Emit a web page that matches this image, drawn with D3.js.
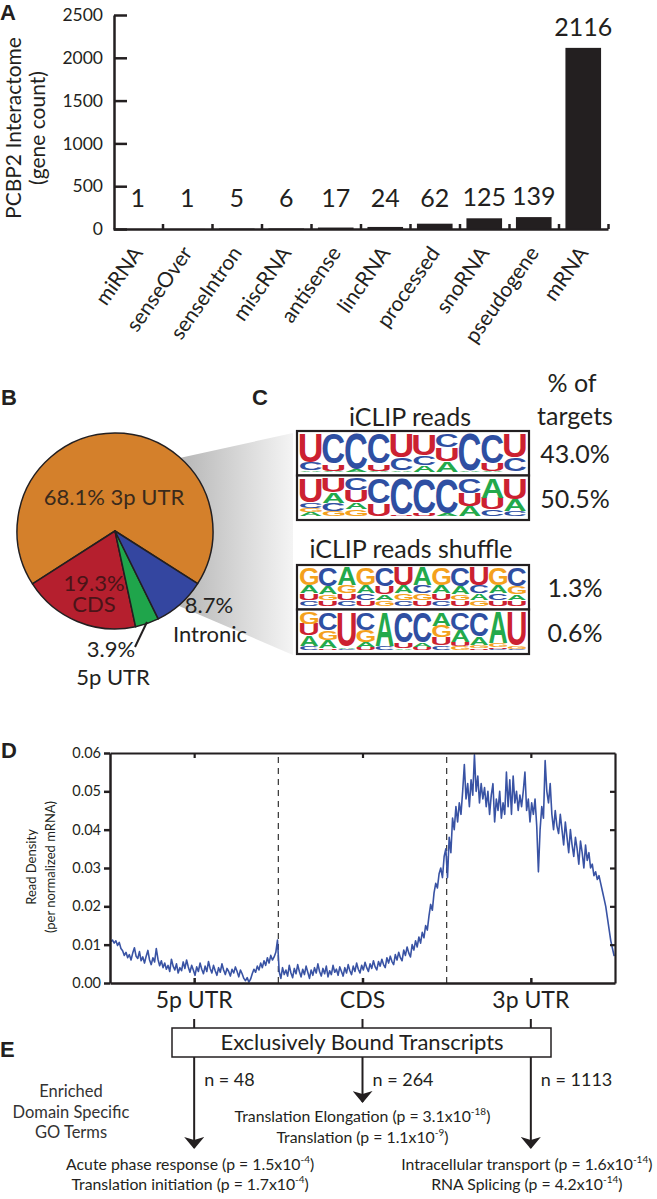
<!DOCTYPE html>
<html>
<head>
<meta charset="utf-8">
<script src="https://cdn.jsdelivr.net/npm/d3@7"></script>
<style>
  body { margin: 0; background: #fff; }
  svg { display: block; }
  text { font-family: Lato, "Open Sans", sans-serif; }
  .panel { font-family: "Liberation Sans", Arial, sans-serif; font-weight: bold; font-size: 22px; }
  .nt { font-family: "Liberation Sans", Arial, sans-serif; font-weight: bold; }
</style>
</head>
<body>
<svg id="fig" width="657" height="1199"></svg>
<script>
// ---- data ----
var rnaTypes = ["miRNA", "senseOver", "senseIntron", "miscRNA", "antisense", "lincRNA", "processed", "snoRNA", "pseudogene", "mRNA"];
var geneCounts = [1, 1, 5, 6, 17, 24, 62, 125, 139, 2116];
var countTicks = [0, 500, 1000, 1500, 2000, 2500];

var regionNames = ["3p UTR", "CDS", "5p UTR", "Intronic"];
var regionShares = [68.1, 19.3, 3.9, 8.7];

var motifTargets = [43.0, 50.5, 1.3, 0.6];
var motifReads = [
  [["U",.74],["C",.21],["A",.04]],
  [["C",.78],["U",.18],["A",.03]],
  [["C",.90],["A",.07]],
  [["C",.78],["U",.18],["A",.03]],
  [["U",.62],["C",.33],["A",.04]],
  [["U",.55],["C",.26],["A",.17]],
  [["C",.36],["U",.34],["A",.28]],
  [["C",.95],["A",.04]],
  [["C",.76],["U",.20],["A",.03]],
  [["U",.62],["C",.35],["A",.02]]
];
var motifReads2 = [
  [["U",.62],["C",.14],["G",.12],["A",.10]],
  [["U",.36],["A",.28],["C",.20],["G",.14]],
  [["C",.30],["U",.32],["A",.18],["G",.18]],
  [["C",.66],["U",.32]],
  [["C",.92],["U",.06]],
  [["C",.90],["U",.08]],
  [["C",.90],["A",.08]],
  [["C",.38],["U",.34],["A",.26]],
  [["A",.50],["U",.30],["C",.18]],
  [["U",.55],["A",.30],["C",.13]]
];
var motifShuffle = [
  [["G",.46],["A",.20],["U",.18],["C",.14]],
  [["C",.48],["A",.20],["G",.16],["U",.14]],
  [["A",.46],["G",.20],["U",.18],["C",.14]],
  [["G",.46],["A",.20],["C",.18],["U",.14]],
  [["C",.48],["U",.20],["A",.16],["G",.14]],
  [["U",.46],["A",.20],["G",.18],["C",.14]],
  [["A",.46],["C",.20],["G",.18],["U",.14]],
  [["G",.46],["A",.20],["U",.18],["C",.14]],
  [["C",.48],["A",.20],["G",.16],["U",.14]],
  [["U",.46],["C",.20],["A",.18],["G",.14]],
  [["G",.46],["A",.20],["C",.18],["U",.14]],
  [["C",.48],["G",.20],["A",.16],["U",.14]]
];
var motifShuffle2 = [
  [["G",.30],["U",.30],["A",.26],["C",.12]],
  [["C",.46],["G",.26],["A",.20],["U",.06]],
  [["U",.88],["A",.06],["C",.04]],
  [["C",.45],["G",.30],["A",.14],["U",.08]],
  [["A",.86],["C",.10],["U",.02]],
  [["C",.78],["U",.14],["A",.06]],
  [["C",.78],["A",.12],["U",.08]],
  [["A",.34],["G",.30],["U",.20],["C",.12]],
  [["C",.45],["A",.30],["U",.12],["G",.10]],
  [["C",.62],["A",.22],["G",.08],["U",.06]],
  [["A",.80],["G",.10],["U",.06],["C",.03]],
  [["U",.86],["G",.08],["C",.04]]
];

var mrnaRegions = ["5p UTR", "CDS", "3p UTR"];
var densityTicks = [0, 0.01, 0.02, 0.03, 0.04, 0.05, 0.06];
var profile5p = [0.0108,0.0112,0.0104,0.0110,0.0098,0.0106,0.0090,0.0084,0.0072,0.0080,
  0.0066,0.0074,0.0060,0.0078,0.0092,0.0070,0.0064,0.0082,0.0058,0.0068,
  0.0052,0.0070,0.0085,0.0060,0.0048,0.0066,0.0055,0.0090,0.0062,0.0045,
  0.0058,0.0040,0.0052,0.0036,0.0046,0.0030,0.0062,0.0044,0.0034,0.0050,
  0.0026,0.0040,0.0032,0.0055,0.0038,0.0060,0.0042,0.0028,0.0046,0.0034,
  0.0020,0.0042,0.0030,0.0052,0.0036,0.0024,0.0044,0.0030,0.0056,0.0038,
  0.0026,0.0046,0.0032,0.0020,0.0040,0.0028,0.0050,0.0034,0.0022,0.0038,
  0.0030,0.0018,0.0036,0.0026,0.0042,0.0030,0.0016,0.0034,0.0024,0.0012,
  0.0006,0.0014,0.0002,0.0010,0.0024,0.0036,0.0028,0.0044,0.0034,0.0052,
  0.0040,0.0058,0.0046,0.0066,0.0052,0.0072,0.0060,0.0068,0.0080,0.0112];
var profileCDS = [0.0030,0.0012,0.0040,0.0022,0.0034,0.0018,0.0046,0.0026,0.0014,0.0038,
  0.0024,0.0048,0.0030,0.0016,0.0036,0.0022,0.0044,0.0028,0.0012,0.0034,
  0.0020,0.0040,0.0026,0.0050,0.0030,0.0018,0.0038,0.0024,0.0044,0.0016,
  0.0032,0.0022,0.0046,0.0028,0.0036,0.0020,0.0042,0.0030,0.0018,0.0040,
  0.0026,0.0048,0.0032,0.0022,0.0044,0.0030,0.0052,0.0036,0.0026,0.0046,
  0.0034,0.0054,0.0040,0.0030,0.0050,0.0038,0.0058,0.0042,0.0034,0.0056,
  0.0044,0.0062,0.0048,0.0040,0.0066,0.0052,0.0070,0.0056,0.0048,0.0074,
  0.0060,0.0080,0.0066,0.0058,0.0086,0.0072,0.0094,0.0078,0.0068,0.0100,
  0.0086,0.0110,0.0094,0.0120,0.0104,0.0132,0.0118,0.0150,0.0138,0.0175,
  0.0205,0.0190,0.0235,0.0260,0.0248,0.0285,0.0300,0.0275,0.0330,0.0350];
var profile3p = [0.0275,0.0380,0.0340,0.0430,0.0400,0.0460,0.0420,0.0470,0.0440,0.0500,
  0.0570,0.0480,0.0520,0.0460,0.0530,0.0490,0.0595,0.0500,0.0540,0.0470,
  0.0520,0.0480,0.0510,0.0460,0.0500,0.0440,0.0490,0.0520,0.0420,0.0480,
  0.0450,0.0500,0.0430,0.0470,0.0440,0.0550,0.0460,0.0530,0.0440,0.0540,
  0.0470,0.0500,0.0450,0.0490,0.0460,0.0500,0.0550,0.0450,0.0480,0.0420,
  0.0470,0.0440,0.0480,0.0410,0.0290,0.0400,0.0460,0.0430,0.0580,0.0500,
  0.0470,0.0520,0.0440,0.0400,0.0450,0.0410,0.0390,0.0440,0.0400,0.0360,
  0.0420,0.0380,0.0340,0.0400,0.0360,0.0330,0.0380,0.0350,0.0310,0.0370,
  0.0340,0.0300,0.0360,0.0320,0.0340,0.0300,0.0310,0.0280,0.0290,0.0270,
  0.0280,0.0260,0.0240,0.0220,0.0200,0.0170,0.0140,0.0110,0.0090,0.0070];

var boundCounts = [48, 264, 1113];
var goTerms5p = ["Acute phase response", "Translation initiation"];
var goPvals5p = [1.5e-4, 1.7e-4];
var goTermsCDS = ["Translation Elongation", "Translation"];
var goPvalsCDS = [3.1e-18, 1.1e-9];
var goTerms3p = ["Intracellular transport", "RNA Splicing"];
var goPvals3p = [1.6e-14, 4.2e-14];

// ---- drawing ----
var svg = d3.select("#fig");
var ink = "#231f20";

function styleAxis(g, w) {
  g.select(".domain").attr("stroke", ink).attr("stroke-width", w);
  g.selectAll(".tick line").attr("stroke", ink).attr("stroke-width", w);
  g.selectAll(".tick text").attr("fill", ink);
}

[["A", 0, 20], ["B", 1, 405], ["C", 252, 405], ["D", 1, 758], ["E", 0, 1057]].forEach(function(p) {
  svg.append("text").attr("class", "panel").attr("x", p[1]).attr("y", p[2]).attr("fill", ink).text(p[0]);
});

// A: bar chart
var gA = svg.append("g");
var xA = d3.scaleBand().domain(rnaTypes).range([113, 608]);
var yA = d3.scaleLinear().domain([0, 2500]).range([229, 15]);
var bw = xA.bandwidth();
var barData = rnaTypes.map(function(t, i) { return {type: t, count: geneCounts[i]}; });

gA.selectAll(".bar").data(barData).enter().append("rect")
  .attr("class", "bar")
  .attr("x", function(d) { return xA(d.type) + bw * 0.14; })
  .attr("width", bw * 0.72)
  .attr("y", function(d) { return yA(d.count); })
  .attr("height", function(d) { return yA(0) - yA(d.count); })
  .attr("fill", ink);

gA.append("g").attr("transform", "translate(114,0)")
  .call(d3.axisLeft(yA).tickValues(countTicks).tickSize(-13).tickSizeOuter(0).tickPadding(11).tickFormat(d3.format("d")))
  .call(function(g) { styleAxis(g, 2.5); g.selectAll("text").style("font-size", "17.5px"); });

var xEdge = d3.scaleLinear().domain([0, rnaTypes.length]).range([113, 608]);
gA.append("g").attr("transform", "translate(0,229)")
  .call(d3.axisBottom(xEdge).tickValues(d3.range(1, rnaTypes.length + 1)).tickSize(-5).tickSizeOuter(0).tickFormat(""))
  .call(function(g) { styleAxis(g, 2.5); });

gA.selectAll(".count").data(barData).enter().append("text")
  .attr("x", function(d) { return xA(d.type) + bw / 2; })
  .attr("y", function(d) { return Math.min(yA(d.count) - 12, 207); })
  .attr("text-anchor", "middle").attr("fill", ink).style("font-size", "25px")
  .text(function(d) { return d.count; });

gA.selectAll(".cat").data(barData).enter().append("text")
  .attr("transform", function(d) { return "translate(" + (xA(d.type) + bw / 2 + 6) + ",253) rotate(-55)"; })
  .attr("text-anchor", "end").attr("fill", ink).style("font-size", "21px")
  .text(function(d) { return d.type; });

var yLab = gA.append("text").attr("transform", "translate(21,128) rotate(-90)")
  .attr("text-anchor", "middle").attr("fill", ink).style("font-size", "21px");
yLab.append("tspan").attr("x", 0).attr("y", 0).text("PCBP2 Interactome");
yLab.append("tspan").attr("x", 0).attr("y", 24).text("(gene count)");

// B: pie + funnel to C
var defs = svg.append("defs");
var grad = defs.append("linearGradient").attr("id", "funnel").attr("gradientUnits", "userSpaceOnUse")
  .attr("x1", 185).attr("y1", 0).attr("x2", 293).attr("y2", 0);
grad.append("stop").attr("offset", 0).attr("stop-color", "#b9b9b9");
grad.append("stop").attr("offset", 1).attr("stop-color", "#f4f4f4");
svg.append("path").attr("d", "M175,459L293,433L293,655L172,603Z").attr("fill", "url(#funnel)");

var regionColors = ["#d4802b", "#b51f2e", "#1fa54b", "#3446a0"];
var pieStart = 482.5 * Math.PI / 180;
var pie = d3.pie().sort(null).value(function(d) { return d; })
  .startAngle(pieStart).endAngle(pieStart - 2 * Math.PI);
var arc = d3.arc().innerRadius(0).outerRadius(98);
var gB = svg.append("g").attr("transform", "translate(115,531)");
gB.selectAll("path").data(pie(regionShares)).enter().append("path")
  .attr("d", arc)
  .attr("fill", function(d, i) { return regionColors[i]; })
  .attr("stroke", ink).attr("stroke-width", 1.5).attr("stroke-linejoin", "round");

function label(x, y, t, size, col) {
  svg.append("text").attr("x", x).attr("y", y).attr("text-anchor", "middle")
    .attr("fill", col || ink).style("font-size", size + "px").text(t);
}
label(114, 505, regionShares[0].toFixed(1) + "% " + regionNames[0], 22, "#3a2a1c");
label(94, 591, regionShares[1].toFixed(1) + "%", 22, "#4a1418");
label(94, 612, regionNames[1], 22, "#4a1418");
label(209, 613, regionShares[3].toFixed(1) + "%", 22);
label(210, 642, regionNames[3], 22);
label(111, 657, regionShares[2].toFixed(1) + "%", 22);
label(113, 685, regionNames[2], 22);
svg.append("line").attr("x1", 147).attr("y1", 622).attr("x2", 135).attr("y2", 647)
  .attr("stroke", ink).attr("stroke-width", 2);

// C: sequence logos
var ntColor = {A: "#23a94b", C: "#2f4fa2", G: "#f4a11d", U: "#cc2131"};
var glyph = {};
var ctx = document.createElement("canvas").getContext("2d");
ctx.font = "bold 100px 'Liberation Sans'";
"ACGU".split("").forEach(function(ch) {
  var m = ctx.measureText(ch);
  glyph[ch] = {l: m.actualBoundingBoxLeft, r: m.actualBoundingBoxRight,
               a: m.actualBoundingBoxAscent, d: m.actualBoundingBoxDescent};
});

function drawLogo(cols, x, y, w, h) {
  var g = svg.append("g");
  g.append("rect").attr("x", x).attr("y", y).attr("width", w).attr("height", h)
    .attr("fill", "#fff").attr("stroke", ink).attr("stroke-width", 2.2);
  var pad = 3, iw = w - 2 * pad, ih = h - 2 * pad;
  var xc = d3.scaleBand().domain(d3.range(cols.length)).range([x + pad, x + pad + iw]).paddingInner(0.04);
  cols.forEach(function(col, i) {
    var sum = d3.sum(col, function(c) { return c[1]; });
    var yh = d3.scaleLinear().domain([0, sum]).range([0, ih]);
    var yb = y + pad + ih;
    for (var k = col.length - 1; k >= 0; k--) {
      var ch = col[k][0], hh = yh(col[k][1]);
      yb -= hh;
      var gb = glyph[ch];
      var sx = xc.bandwidth() / (gb.l + gb.r), sy = Math.max(hh - 0.6, 0.3) / (gb.a + gb.d);
      g.append("text").attr("class", "nt").attr("font-size", 100)
        .attr("transform", "translate(" + xc(i) + "," + yb + ") scale(" + sx + "," + sy + ") translate(" + gb.l + "," + gb.a + ")")
        .style("fill", ntColor[ch]).text(ch);
    }
  });
}
var logoX = 297, logoW = 232, logoH = 44.5;
var logoRows = [[motifReads, 431], [motifReads2, 431 + logoH], [motifShuffle, 565], [motifShuffle2, 565 + logoH]];
logoRows.forEach(function(r, i) {
  drawLogo(r[0], logoX, r[1], logoW, logoH);
  label(575, r[1] + logoH / 2 + 10, motifTargets[i].toFixed(1) + "%", 25);
});
label(410, 426, "iCLIP reads", 25);
label(411, 558, "iCLIP reads shuffle", 25);
label(572, 392, "% of", 25);
label(575, 425, "targets", 25);

// D: read density profile
var profile = profile5p.concat(profileCDS, profile3p);
var nBins = profile.length;
var regionEdges = [profile5p.length, profile5p.length + profileCDS.length];
var regionMid = [profile5p.length / 2, profile5p.length + profileCDS.length / 2,
                 profile5p.length + profileCDS.length + profile3p.length / 2];
var xD = d3.scaleLinear().domain([0, nBins]).range([110, 615]);
var yD = d3.scaleLinear().domain([0, 0.06]).range([983, 753]);
var gD = svg.append("g");

gD.selectAll(".edge").data(regionEdges).enter().append("line")
  .attr("x1", function(d) { return xD(d); }).attr("x2", function(d) { return xD(d); })
  .attr("y1", yD(0)).attr("y2", yD(0.06))
  .attr("stroke", "#333").attr("stroke-width", 1.2).attr("stroke-dasharray", "6,5");

gD.append("path").datum(profile)
  .attr("fill", "none").attr("stroke", "#3953a4").attr("stroke-width", 1.6).attr("stroke-linejoin", "round")
  .attr("d", d3.line().x(function(d, i) { return xD(i + 0.5); }).y(function(d) { return yD(d); }));

gD.append("g").attr("transform", "translate(110,0)")
  .call(d3.axisLeft(yD).tickValues(densityTicks).tickSize(6).tickSizeOuter(0).tickPadding(3).tickFormat(d3.format(".2f")))
  .call(function(g) { styleAxis(g, 2.5); g.selectAll("text").style("font-size", "14.5px"); });
gD.append("g").attr("transform", "translate(615,0)")
  .call(d3.axisRight(yD).tickValues(densityTicks.slice(1, -1)).tickSize(-5).tickSizeOuter(0).tickFormat(""))
  .call(function(g) { styleAxis(g, 2.2); });
gD.append("g").attr("transform", "translate(0,753)")
  .call(d3.axisTop(xD).tickValues(regionMid).tickSize(-5).tickSizeOuter(0).tickFormat(""))
  .call(function(g) { styleAxis(g, 2.2); });
gD.append("g").attr("transform", "translate(0,983)")
  .call(d3.axisBottom(xD).tickValues(regionMid).tickSize(-5).tickSizeOuter(0).tickFormat(""))
  .call(function(g) { styleAxis(g, 2.5); });

regionMid.forEach(function(m, i) { label(xD(m), 1008, mrnaRegions[i], 23); });

var dLab = gD.append("text").attr("transform", "translate(36,867) rotate(-90)")
  .attr("text-anchor", "middle").attr("fill", ink).style("font-size", "13px");
dLab.append("tspan").attr("x", 0).attr("y", 0).text("Read Density");
dLab.append("tspan").attr("x", 0).attr("y", 19).text("(per normalized mRNA)");

// E: exclusively bound transcripts
defs.append("marker").attr("id", "head").attr("viewBox", "0 0 12 20")
  .attr("refX", 11).attr("refY", 10).attr("markerUnits", "userSpaceOnUse")
  .attr("markerWidth", 12).attr("markerHeight", 20).attr("orient", "auto")
  .append("path").attr("d", "M0,0L12,10L0,20L3,10Z").attr("fill", ink);

var gE = svg.append("g");
var arrowTips = [1148, 1102, 1148];
regionMid.forEach(function(m, i) {
  var x = xD(m);
  gE.append("line").attr("x1", x).attr("x2", x).attr("y1", 1019).attr("y2", 1028)
    .attr("stroke", ink).attr("stroke-width", 2);
  gE.append("line").attr("x1", x).attr("x2", x).attr("y1", 1057).attr("y2", arrowTips[i])
    .attr("stroke", ink).attr("stroke-width", 2).attr("marker-end", "url(#head)");
  gE.append("text").attr("x", x + 10).attr("y", 1086).attr("fill", ink).style("font-size", "18px")
    .text("n = " + boundCounts[i]);
});
gE.append("rect").attr("x", 172).attr("y", 1028).attr("width", 379).attr("height", 29)
  .attr("fill", "#fff").attr("stroke", ink).attr("stroke-width", 1.5);
label(362, 1050, "Exclusively Bound Transcripts", 22);

["Enriched", "Domain Specific", "GO Terms"].forEach(function(t, i) {
  label(71, 1097 + i * 20.5, t, 16.5, "#333");
});

function goLine(x, y, term, p) {
  var parts = p.toExponential(1).split("e");
  var t = gE.append("text").attr("x", x).attr("y", y).attr("text-anchor", "middle")
    .attr("fill", ink).style("font-size", "15.8px");
  t.append("tspan").text(term + " (p = " + parts[0] + "x10");
  t.append("tspan").attr("dy", -7).style("font-size", "10px").text(parts[1]);
  t.append("tspan").attr("dy", 7).text(")");
}
[[goTerms5p, goPvals5p, 0, [1170, 1190]], [goTermsCDS, goPvalsCDS, 1, [1122, 1143]], [goTerms3p, goPvals3p, 2, [1170, 1190]]]
  .forEach(function(s) {
    var x = xD(regionMid[s[2]]) + (s[2] === 1 ? 0 : -4);
    s[0].forEach(function(term, j) { goLine(x, s[3][j], term, s[1][j]); });
  });
</script>
</body>
</html>
